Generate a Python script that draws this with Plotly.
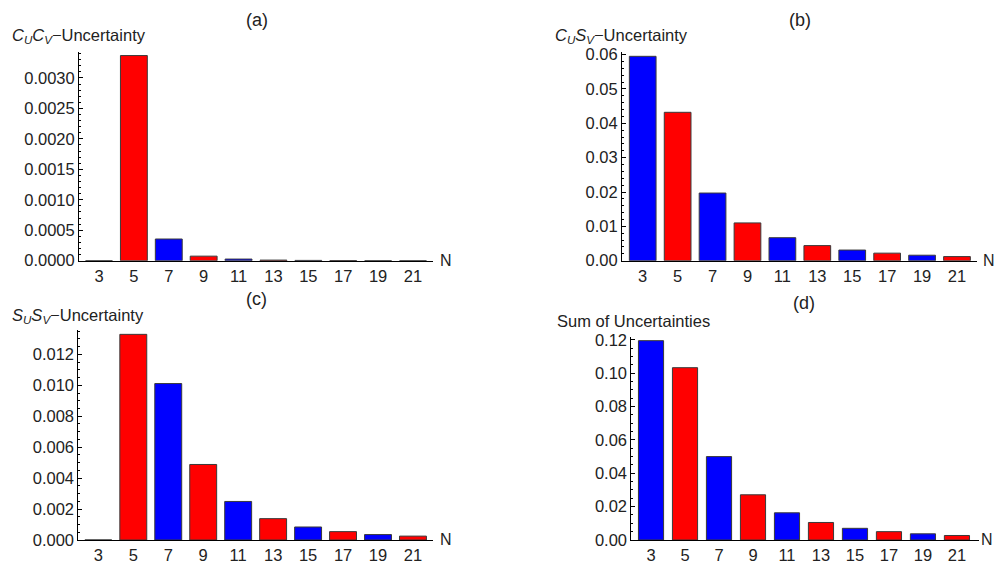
import plotly.graph_objects as go

W, H = 997, 573

n_values = ["3", "5", "7", "9", "11", "13", "15", "17", "19", "21"]
cucv = [0.0, 0.003367, 0.000356, 0.000075, 0.000027, 0.000010, 0.000005, 0.000003, 0.000001, 0.0000005]
cusv = [0.0595, 0.0432, 0.0197, 0.0110, 0.0067, 0.0044, 0.0031, 0.0022, 0.0016, 0.0012]
susv = [0.0, 0.01329, 0.01011, 0.00488, 0.00249, 0.00138, 0.00084, 0.00054, 0.00035, 0.00025]
total = [0.1195, 0.1033, 0.0500, 0.0271, 0.0163, 0.0105, 0.0070, 0.0050, 0.0037, 0.0027]

titles = ["(a)", "(b)", "(c)", "(d)"]
ylabels = ["<i>C</i><sub><i>U</i></sub><i>C</i><sub><i>V</i></sub>\u2212Uncertainty",
           "<i>C</i><sub><i>U</i></sub><i>S</i><sub><i>V</i></sub>\u2212Uncertainty",
           "<i>S</i><sub><i>U</i></sub><i>S</i><sub><i>V</i></sub>\u2212Uncertainty",
           "Sum of Uncertainties"]

RED, BLUE = "#ff0000", "#0000ff"
colors = [BLUE if i % 2 == 0 else RED for i in range(len(n_values))]

FONT = "Liberation Sans, Arial, sans-serif"
FS = 16.5
TXT = "#222222"

panels = [
    dict(data=cucv, x0=79, x1=433, yt=46, yb=261, xr=[-0.573, 9.573], ymax=0.00343, dt=0.0005, mn=0.0001, fmt=".4f", bw=0.77,
         title=(257, 13), ylab=(10, 30), nlab=(446, 261)),
    dict(data=cusv, x0=622, x1=977, yt=46.5, yb=261, xr=[-0.593, 9.573], ymax=0.0607, dt=0.01, mn=0.002, fmt=".2f", bw=0.765,
         title=(800, 13), ylab=(553, 30), nlab=(989, 261)),
    dict(data=susv, x0=78.3, x1=433, yt=332.3, yb=548.3, xr=[-0.573, 9.573], ymax=0.01357, dt=0.002, mn=0.0005, fmt=".3f", bw=0.77,
         title=(256, 300), ylab=(10, 318), nlab=(446, 548)),
    dict(data=total, x0=631.3, x1=978.7, yt=339.3, yb=548.3, xr=[-0.58, 9.64], ymax=0.1218, dt=0.02, mn=0.005, fmt=".2f", bw=0.74,
         title=(804, 305), ylab=(555, 323), nlab=(987, 548)),
]

fig = go.Figure()
annotations = []
for i, p in enumerate(panels):
    k = "" if i == 0 else str(i + 1)
    fig.add_trace(go.Bar(
        x=n_values, y=p["data"], width=p["bw"],
        marker=dict(color=colors, line=dict(color="#3a3a3a", width=1)),
        xaxis="x" + k, yaxis="y" + k, showlegend=False,
    ))
    fig.layout["xaxis" + k] = dict(
        domain=[p["x0"] / W, p["x1"] / W], anchor="y" + k, type="category",
        range=p["xr"], showline=True, linecolor="black", linewidth=1,
        ticks="", showgrid=False, zeroline=False,
        tickfont=dict(family=FONT, size=FS, color=TXT),
    )
    fig.layout["yaxis" + k] = dict(
        domain=[1 - p["yb"] / H, 1 - p["yt"] / H], anchor="x" + k,
        range=[0, p["ymax"]], showline=True, linecolor="black", linewidth=1,
        ticks="inside", ticklen=4, tickcolor="black", dtick=p["dt"], tick0=0,
        tickformat=p["fmt"], showgrid=False, zeroline=False,
        minor=dict(ticks="inside", ticklen=2, dtick=p["mn"], tickcolor="black", showgrid=False),
        tickfont=dict(family=FONT, size=FS, color=TXT),
    )
    tx, ty = p["title"]
    annotations.append(dict(text=titles[i], x=tx / W, y=1 - ty / H, xref="paper", yref="paper",
                            xanchor="center", yanchor="middle", showarrow=False,
                            font=dict(family=FONT, size=18, color=TXT)))
    lx, ly = p["ylab"]
    annotations.append(dict(text=ylabels[i], x=lx / W, y=1 - ly / H, xref="paper", yref="paper",
                            xanchor="left", yanchor="middle", showarrow=False,
                            font=dict(family=FONT, size=16.5, color=TXT)))
    nx, ny = p["nlab"]
    annotations.append(dict(text="N", x=nx / W, y=1 - ny / H, xref="paper", yref="paper",
                            xanchor="center", yanchor="middle", showarrow=False,
                            font=dict(family=FONT, size=16, color=TXT)))

fig.update_layout(
    width=W, height=H, margin=dict(l=0, r=0, t=0, b=0),
    paper_bgcolor="white", plot_bgcolor="white",
    annotations=annotations, bargap=0.2,
)
fig.write_html("out.html", config={"displayModeBar": False},
               post_script="document.body.style.margin='0';document.body.style.overflow='hidden';")
